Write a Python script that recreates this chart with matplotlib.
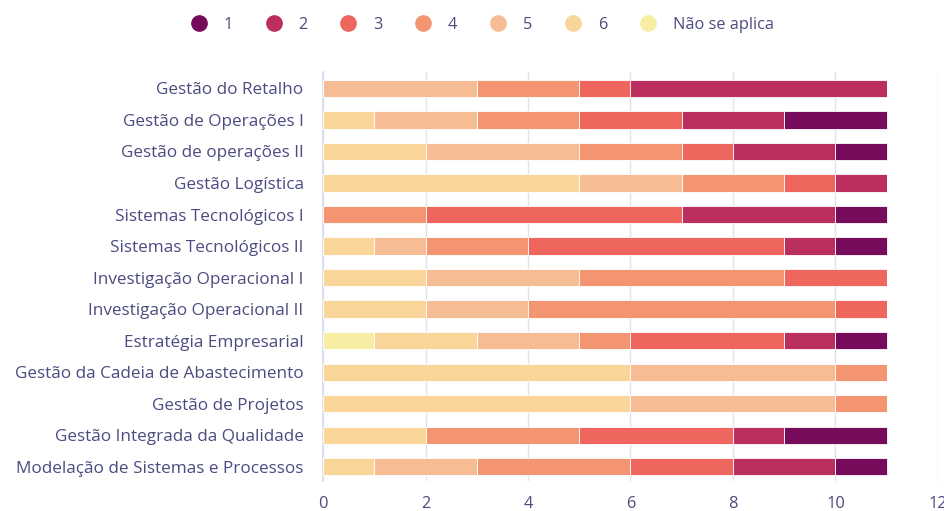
import matplotlib
matplotlib.use("Agg")
import matplotlib.pyplot as plt
from matplotlib.lines import Line2D

categories = [
    "Gestão do Retalho",
    "Gestão de Operações I",
    "Gestão de operações II",
    "Gestão Logística",
    "Sistemas Tecnológicos I",
    "Sistemas Tecnológicos II",
    "Investigação Operacional I",
    "Investigação Operacional II",
    "Estratégia Empresarial",
    "Gestão da Cadeia de Abastecimento",
    "Gestão de Projetos",
    "Gestão Integrada da Qualidade",
    "Modelação de Sistemas e Processos",
]

series_names = ["1", "2", "3", "4", "5", "6", "Não se aplica"]
v_na = [0, 0, 0, 0, 0, 0, 0, 0, 1, 0, 0, 0, 0]
v_6 = [0, 1, 2, 5, 0, 1, 2, 2, 2, 6, 6, 2, 1]
v_5 = [3, 2, 3, 2, 0, 1, 3, 2, 2, 4, 4, 0, 2]
v_4 = [2, 2, 2, 2, 2, 2, 4, 6, 1, 1, 1, 3, 3]
v_3 = [1, 2, 1, 1, 5, 5, 2, 1, 3, 0, 0, 3, 2]
v_2 = [5, 2, 2, 1, 3, 1, 0, 0, 1, 0, 0, 1, 2]
v_1 = [0, 2, 1, 0, 1, 1, 0, 0, 1, 0, 0, 2, 1]

colors = {
    "1": "#760a5b",
    "2": "#ba2f5f",
    "3": "#ee665d",
    "4": "#f29570",
    "5": "#f6bc93",
    "6": "#f9d59a",
    "Não se aplica": "#f7eea4",
}

stack_order = [("Não se aplica", v_na), ("6", v_6), ("5", v_5), ("4", v_4),
               ("3", v_3), ("2", v_2), ("1", v_1)]

text_color = "#4b4b80"
font = "Open Sans"

fig = plt.figure(figsize=(9.44, 5.11), dpi=100)
ax = fig.add_axes([323 / 944, 1 - 481 / 511, (938 - 323) / 944, (481 - 72) / 511])

y = list(range(len(categories)))
left = [0] * len(categories)
for name, vals in stack_order:
    ax.barh(y, vals, left=left, height=0.55, color=colors[name],
            edgecolor="white", linewidth=0.6, zorder=3)
    left = [l + v for l, v in zip(left, vals)]

ax.set_ylim(12.45, -0.52)
ax.set_xlim(0, 12)
ax.set_xticks(range(0, 13, 2))
ax.set_yticks(y)
ax.set_yticklabels(categories)
ax.grid(axis="x", color="#e3e3ea", linewidth=1, zorder=0)
for s in ["top", "right", "bottom"]:
    ax.spines[s].set_visible(False)
ax.spines["left"].set_color("#d6dcef")
ax.spines["left"].set_linewidth(1.2)
ax.tick_params(axis="y", length=0, pad=14, labelsize=12.3, labelcolor=text_color)
ax.tick_params(axis="x", length=0, pad=11, labelsize=11.8, labelcolor=text_color)
for lab in ax.get_xticklabels() + ax.get_yticklabels():
    lab.set_fontfamily(font)

handles = [Line2D([0], [0], marker="o", linestyle="none", markersize=11,
                  markerfacecolor=colors[n], markeredgecolor=colors[n])
           for n in series_names]
leg = fig.legend(handles, series_names, loc="center", bbox_to_anchor=(478 / 944, 1 - 25 / 511),
                 ncol=7, frameon=False, handletextpad=0.5, columnspacing=1.5,
                 prop={"family": font, "size": 11.8})
for t in leg.get_texts():
    t.set_color(text_color)

fig.savefig("out.png", dpi=100)
